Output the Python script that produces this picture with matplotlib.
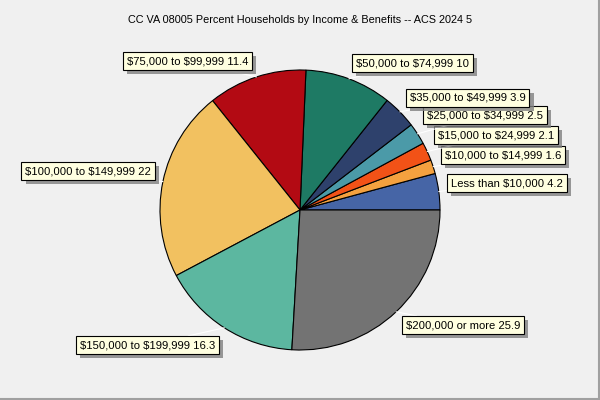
import matplotlib
matplotlib.use("Agg")
import matplotlib.pyplot as plt
import matplotlib.patheffects as pe
import numpy as np

plt.rcParams["text.parse_math"] = False
plt.rcParams["font.family"] = ["Liberation Sans", "DejaVu Sans"]

title = "CC VA 08005 Percent Households by Income & Benefits -- ACS 2024 5"
categories = ["Less than $10,000", "$10,000 to $14,999", "$15,000 to $24,999",
              "$25,000 to $34,999", "$35,000 to $49,999", "$50,000 to $74,999",
              "$75,000 to $99,999", "$100,000 to $149,999", "$150,000 to $199,999",
              "$200,000 or more"]
values = [4.2, 1.6, 2.1, 2.5, 3.9, 10, 11.4, 22, 16.3, 25.9]
value_labels = ["4.2", "1.6", "2.1", "2.5", "3.9", "10", "11.4", "22", "16.3", "25.9"]
colors = ["#4665a6", "#f4a13f", "#f25217", "#4b9aa8", "#2e416c", "#1e7a64",
          "#b30a13", "#f2c160", "#5cb7a0", "#737373"]

# label box anchor positions in pixels (layout only): (x, y, ha)
label_pos = [(451, 183, "left"), (445, 155, "left"), (438, 135, "left"),
             (427, 115, "left"), (410, 98, "left"), (356, 63, "left"),
             (248, 61, "right"), (151, 171, "right"), (215, 345, "right"),
             (406, 325, "left")]

W, H = 600, 400
cx, cy, R = 300, 210, 140
fig = plt.figure(figsize=(6, 4), dpi=100)
fig.patch.set_facecolor("#f0f0f0")
ax = fig.add_axes([(cx - R) / W, (H - cy - R) / H, 2 * R / W, 2 * R / H])

wedges, _ = ax.pie(values, colors=colors, startangle=0, counterclock=True,
                   radius=1, wedgeprops=dict(edgecolor="black", linewidth=0.8))
ax.set_xlim(-1, 1)
ax.set_ylim(-1, 1)
ax.axis("off")

for i, (w, v) in enumerate(zip(wedges, values)):
    mid = np.deg2rad((w.theta1 + w.theta2) / 2)
    px, py, ha = label_pos[i]
    tx = (px - cx) / R
    ty = (cy - py) / R
    ex, ey = np.cos(mid), np.sin(mid)
    t = ax.annotate(f"{categories[i]} {value_labels[i]}", xy=(ex, ey), xytext=(tx, ty),
                    ha=ha, va="center", fontsize=8.1,
                    annotation_clip=False,
                    bbox=dict(boxstyle="square,pad=0.33", fc="#ffffe0", ec="black", lw=0.8),
                    arrowprops=dict(arrowstyle="-", color="white", lw=0.8,
                                    shrinkA=0, shrinkB=0))
    t.get_bbox_patch().set_path_effects([pe.SimplePatchShadow(offset=(3, -3), shadow_rgbFace="#808080", alpha=0.8), pe.Normal()])

fig.text(0.5, 1 - 20 / H, title, ha="center", va="center", fontsize=7.8)

# border lines right/bottom
fig.add_artist(plt.Line2D([0, 1], [0.0015, 0.0015], transform=fig.transFigure, color="#a0a0a0", lw=1.5))
fig.add_artist(plt.Line2D([0.9985, 0.9985], [0, 1], transform=fig.transFigure, color="#a0a0a0", lw=1.5))

fig.savefig("out.png", dpi=100, facecolor=fig.get_facecolor())
